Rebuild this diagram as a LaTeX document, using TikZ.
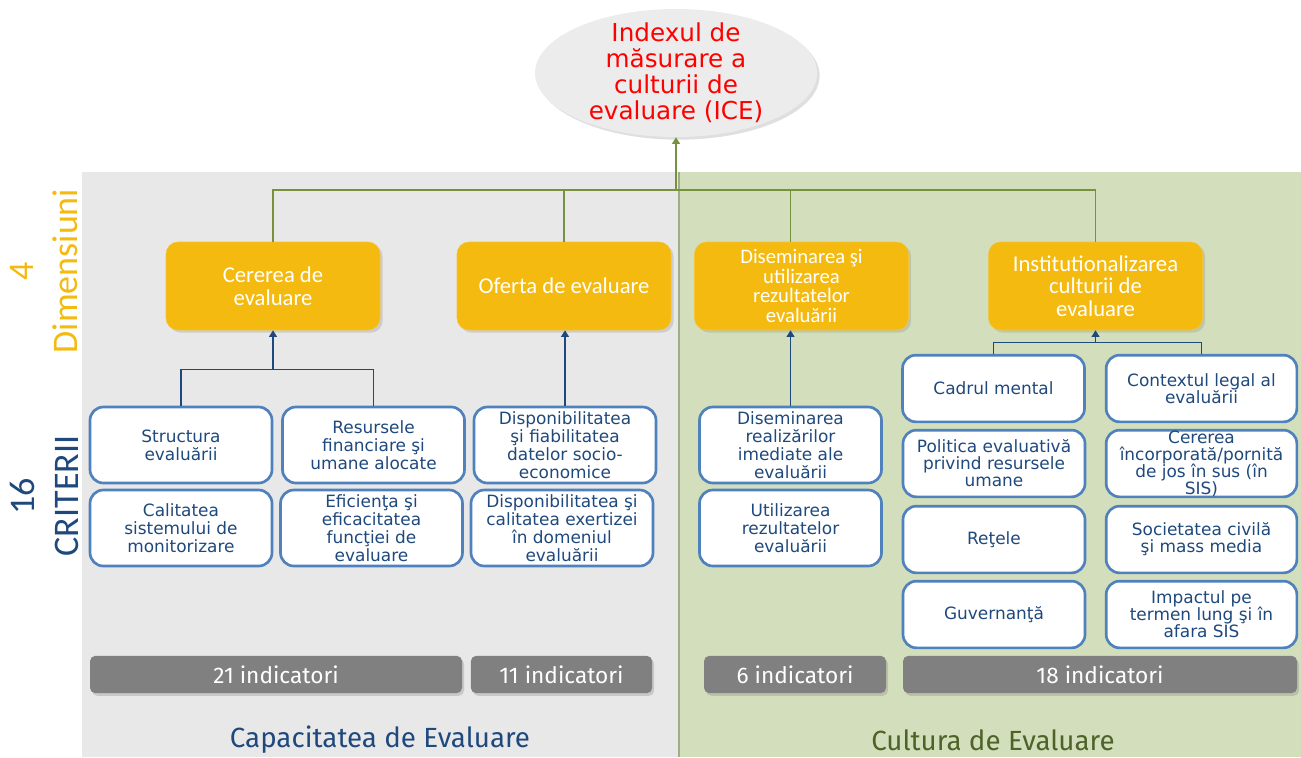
\documentclass[tikz,border=0pt]{standalone}
\usepackage{fontspec}
\setmainfont{DejaVu Sans}
\newfontfamily\condfont{Carlito}
\newfontfamily\barfont{Fira Sans}
\usepackage{xcolor}
\usetikzlibrary{shapes,arrows.meta,positioning,calc,shadows}

\definecolor{dimyellow}{RGB}{244,186,16}
\definecolor{critblue}{RGB}{79,129,189}
\definecolor{navytext}{RGB}{31,73,125}
\definecolor{treegreen}{RGB}{118,146,60}
\definecolor{panelgray}{RGB}{232,232,232}
\definecolor{panelgreen}{RGB}{211,223,188}
\definecolor{bargray}{RGB}{128,128,128}
\definecolor{olivetext}{RGB}{79,98,40}
\definecolor{ellgray}{RGB}{236,236,236}
\definecolor{edgegreen}{RGB}{160,172,138}

\begin{document}
\begin{tikzpicture}[x=0.75pt, y=-0.75pt,
    dimbox/.style={rectangle, rounded corners=9pt, fill=dimyellow, draw=dimyellow!85!white,
        minimum width=160.5pt, minimum height=66pt, inner sep=1pt, text=white, align=center,
        font=\condfont\fontsize{17}{17}\selectfont,
        drop shadow={shadow xshift=2pt, shadow yshift=-2pt, opacity=0.25}},
    critbox/.style={rectangle, rounded corners=10pt, fill=white, draw=critblue, line width=2pt,
        minimum width=136.5pt, minimum height=57pt, inner sep=0pt, text=navytext, align=center,
        font=\fontsize{12.7}{13.5}\selectfont},
    sidebox/.style={critbox, minimum height=50pt, font=\fontsize{12.7}{12.8}\selectfont},
    widebox/.style={sidebox, minimum width=143pt},
    indbar/.style={rectangle, rounded corners=4pt, fill=bargray, minimum height=28pt,
        text=white, font=\barfont\fontsize{17}{19}\selectfont,
        drop shadow={shadow xshift=1.5pt, shadow yshift=-2pt, opacity=0.3}},
    tline/.style={treegreen, line width=1pt},
    cline/.style={navytext, line width=0.9pt},
    tip/.style={-{Triangle[length=5pt,width=6pt]}}
]
    \useasboundingbox (0,0) rectangle (1301,757);

    % Panels
    \fill[panelgray] (82,172) rectangle (678,757);
    \fill[panelgreen] (678,172) rectangle (1301,757);
    \draw[edgegreen, line width=1.5pt] (679,172) -- (679,757);

    % Index
    \node[ellipse, fill=ellgray, minimum width=211.5pt, minimum height=96pt, inner sep=0pt,
        drop shadow={shadow xshift=2pt, shadow yshift=-2pt, opacity=0.25}] (ice) at (676,73) {};
    \node[text=red, align=center, font=\fontsize{18.5}{19.5}\selectfont] (icetext) at (ice.center)
        {Indexul de\\măsurare a\\culturii de\\evaluare (ICE)};

    % Side labels
    \node[rotate=90, text=dimyellow, align=center, font=\condfont\fontsize{27}{33}\selectfont]
        (dimlbl) at (44,271) {4\\Dimensiuni};
    \node[rotate=90, text=navytext, align=center, font=\condfont\fontsize{27}{33}\selectfont]
        (critlbl) at (44,496) {16\\CRITERII};

    % Dimensions
    \node[dimbox] (cer) at (273,286) {Cererea de\\evaluare};
    \node[dimbox] (ofe) at (564,286) {Oferta de evaluare};
    \node[dimbox, font=\condfont\fontsize{15.5}{14.6}\selectfont] (dis) at (801.5,286)
        {Diseminarea şi\\utilizarea\\rezultatelor\\evaluării};
    \node[dimbox] (ins) at (1095.5,286) {Institutionalizarea\\culturii de\\evaluare};

    % Criteria
    \node[critbox] (str) at (181,445) {Structura\\evaluării};
    \node[critbox] (res) at (373.5,445) {Resursele\\financiare şi\\umane alocate};
    \node[critbox] (cal) at (181,528) {Calitatea\\sistemului de\\monitorizare};
    \node[critbox] (efi) at (371.5,528) {Eficienţa şi\\eficacitatea\\funcţiei de\\evaluare};
    \node[critbox] (dsp) at (565,445) {Disponibilitatea\\şi fiabilitatea\\datelor socio-\\economice};
    \node[critbox] (dex) at (562,528) {Disponibilitatea şi\\calitatea exertizei\\în domeniul\\evaluării};
    \node[critbox] (dsr) at (790.5,445) {Diseminarea\\realizărilor\\imediate ale\\evaluării};
    \node[critbox] (utl) at (790.5,528) {Utilizarea\\rezultatelor\\evaluării};

    \node[sidebox] (cad) at (993.5,388.5) {Cadrul mental};
    \node[sidebox] (pol) at (994,463.5) {Politica evaluativă\\privind resursele\\umane};
    \node[sidebox] (ret) at (994,539.5) {Reţele};
    \node[sidebox] (guv) at (994,614.5) {Guvernanţă};
    \node[widebox] (ctx) at (1201.5,388.5) {Contextul legal al\\evaluării};
    \node[widebox] (jos) at (1201.5,463.5) {Cererea\\încorporată/pornită\\de jos în sus (în\\SIS)};
    \node[widebox] (soc) at (1201.5,539.5) {Societatea civilă\\şi mass media};
    \node[widebox] (imp) at (1201.5,614.5) {Impactul pe\\termen lung şi în\\afara SIS};

    % Indicators
    \foreach \name/\cx/\w/\txt in {ind21/276/279/21 indicatori, ind11/561.5/136/11 indicatori,
        ind6/795/136.5/6 indicatori, ind18/1100/295.5/18 indicatori}
        \node[indbar, minimum width=\w pt] (\name) at (\cx,674.5) {\txt};

    % Panel titles
    \node[text=navytext, font=\barfont\fontsize{20.8}{23}\selectfont] (caplbl) at (380,740) {Capacitatea de Evaluare};
    \node[text=olivetext, font=\barfont\fontsize{20.8}{23}\selectfont] (cultlbl) at (993,740) {Cultura de Evaluare};

    % Tree to index
    \coordinate (hub) at (676,190);
    \draw[tline] (cer.north) |- (hub) -| (ins.north);
    \draw[tline] (ofe.north) |- (hub);
    \draw[tline] (dsr.north |- dis.north) |- (hub);
    \draw[tline, tip] (hub) -- (ice.south);

    % Criteria to dimensions
    \coordinate (cj) at ($(cer.south)+(0,39)$);
    \draw[cline] (str.north) |- (cj) -| (res.north);
    \draw[cline, tip] (cj) -- (cer.south);
    \draw[cline, tip] (dsp.north) -- (dsp.north |- ofe.south);
    \draw[cline, tip] (dsr.north) -- (dsr.north |- dis.south);
    \coordinate (ij) at ($(ins.south)+(0,12)$);
    \draw[cline] (cad.north) |- (ij) -| (ctx.north);
    \draw[cline, tip] (ij) -- (ins.south);
\end{tikzpicture}
\end{document}
